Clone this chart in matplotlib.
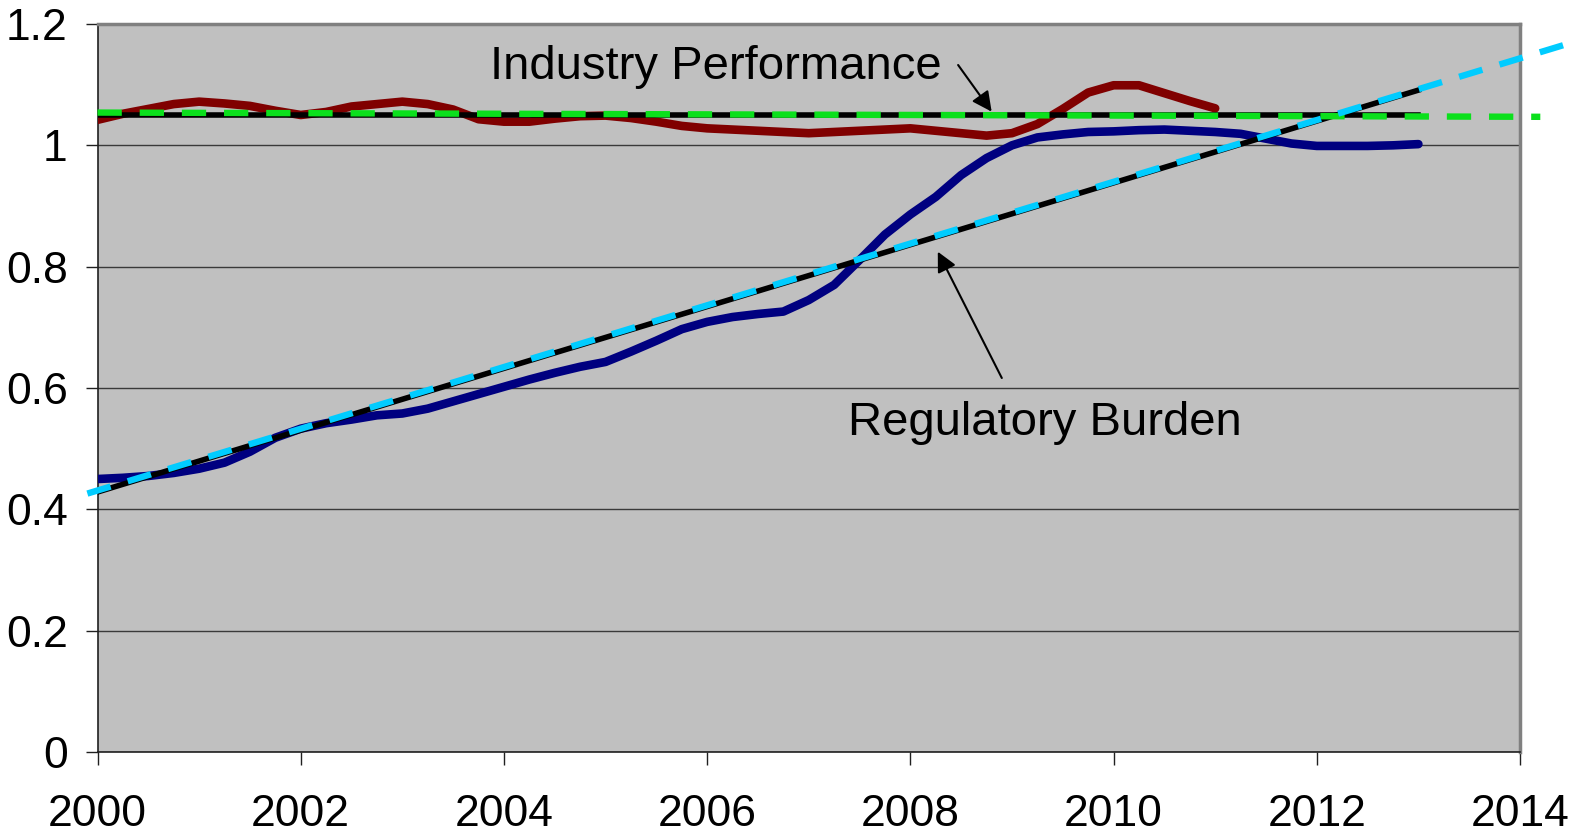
import numpy as np
import matplotlib
matplotlib.use('Agg')
import matplotlib.pyplot as plt

# quarterly series
perf_years = np.arange(2000, 2011.01, 0.25)
perf_values = [1.042, 1.052, 1.060, 1.068, 1.072, 1.069, 1.065, 1.057,
               1.050, 1.055, 1.064, 1.068, 1.072, 1.068, 1.059, 1.043,
               1.039, 1.039, 1.044, 1.048, 1.049, 1.045, 1.039, 1.032,
               1.028, 1.026, 1.024, 1.022, 1.020, 1.022, 1.024, 1.026,
               1.028, 1.024, 1.020, 1.016, 1.020, 1.035, 1.060, 1.087,
               1.099, 1.099, 1.086, 1.073, 1.061]

burden_years = np.arange(2000, 2013.01, 0.25)
burden_values = [0.450, 0.452, 0.455, 0.460, 0.467, 0.477, 0.495, 0.518,
                 0.533, 0.542, 0.548, 0.555, 0.558, 0.566, 0.578, 0.590,
                 0.602, 0.614, 0.625, 0.635, 0.643, 0.660, 0.678, 0.697,
                 0.709, 0.717, 0.722, 0.726, 0.745, 0.770, 0.811, 0.853,
                 0.886, 0.915, 0.951, 0.979, 1.000, 1.013, 1.018, 1.022,
                 1.023, 1.025, 1.026, 1.024, 1.022, 1.019, 1.011, 1.003,
                 0.999, 0.999, 0.999, 1.000, 1.002]

# trend lines (solid black) and their projections (dashed)
trend_years = [2000, 2013]
perf_trend = [1.050, 1.050]
burden_trend = [0.4286, 1.091]

perf_proj_years = [2000, 2014.2]
perf_proj = [1.054, 1.047]
burden_proj_years = [1999.9, 2014.7]
burden_proj = [0.426, 1.179]

x_ticks = [2000, 2002, 2004, 2006, 2008, 2010, 2012, 2014]
y_ticks = [0, 0.2, 0.4, 0.6, 0.8, 1.0, 1.2]
y_tick_labels = ['0', '0.2', '0.4', '0.6', '0.8', '1', '1.2']

font = ['Liberation Sans', 'DejaVu Sans']

fig = plt.figure(figsize=(15.73, 8.33), dpi=100)
ax = fig.add_axes([0.062, 0.0972, 0.9043, 0.874])
ax.set_facecolor('#c0c0c0')

ax.plot(perf_years, perf_values, color='#800000', lw=6.2,
        solid_capstyle='round', solid_joinstyle='round', zorder=3)
ax.plot(burden_years, burden_values, color='#000080', lw=6.2,
        solid_capstyle='round', solid_joinstyle='round', zorder=3)

ax.plot(trend_years, perf_trend, color='black', lw=4, zorder=4)
ax.plot(trend_years, burden_trend, color='black', lw=4, zorder=4)

ax.plot(perf_proj_years, perf_proj, color='#0be01c', lw=4.6,
        dashes=(3.8, 2.8), zorder=5, clip_on=False)
ax.plot(burden_proj_years, burden_proj, color='#00ccff', lw=4.6,
        dashes=(3.8, 2.8), zorder=5, clip_on=False)

ax.set_xlim(2000, 2014)
ax.set_ylim(0, 1.2)
ax.set_xticks(x_ticks)
ax.set_xticklabels([str(t) for t in x_ticks], family=font, fontsize=32)
ax.set_yticks(y_ticks)
ax.set_yticklabels(y_tick_labels, family=font, fontsize=32)
ax.tick_params(axis='x', direction='out', length=9.5, width=1, color='#202020', pad=21)
ax.tick_params(axis='y', direction='out', length=8.5, width=1, color='#202020', pad=13)

ax.yaxis.grid(True, color='#3a3a3a', lw=1)
ax.set_axisbelow(True)

for side in ['top', 'right']:
    ax.spines[side].set_color('#808080')
    ax.spines[side].set_linewidth(2.5)
for side in ['left', 'bottom']:
    ax.spines[side].set_color('#202020')
    ax.spines[side].set_linewidth(1.2)

ax.text(2003.86, 1.109, 'Industry Performance', family=font, fontsize=34,
        ha='left', va='baseline', zorder=6)
ax.annotate('', xy=(2008.80, 1.0555), xytext=(2008.47, 1.1324),
            arrowprops=dict(arrowstyle='-|>', color='black', lw=1.5,
                            mutation_scale=30, shrinkA=0, shrinkB=0), zorder=6)

ax.text(2007.39, 0.5225, 'Regulatory Burden', family=font, fontsize=34,
        ha='left', va='baseline', zorder=6)
ax.annotate('', xy=(2008.27, 0.8247), xytext=(2008.90, 0.6165),
            arrowprops=dict(arrowstyle='-|>', color='black', lw=1.5,
                            mutation_scale=30, shrinkA=0, shrinkB=0), zorder=6)

plt.savefig('out.png', dpi=100)
